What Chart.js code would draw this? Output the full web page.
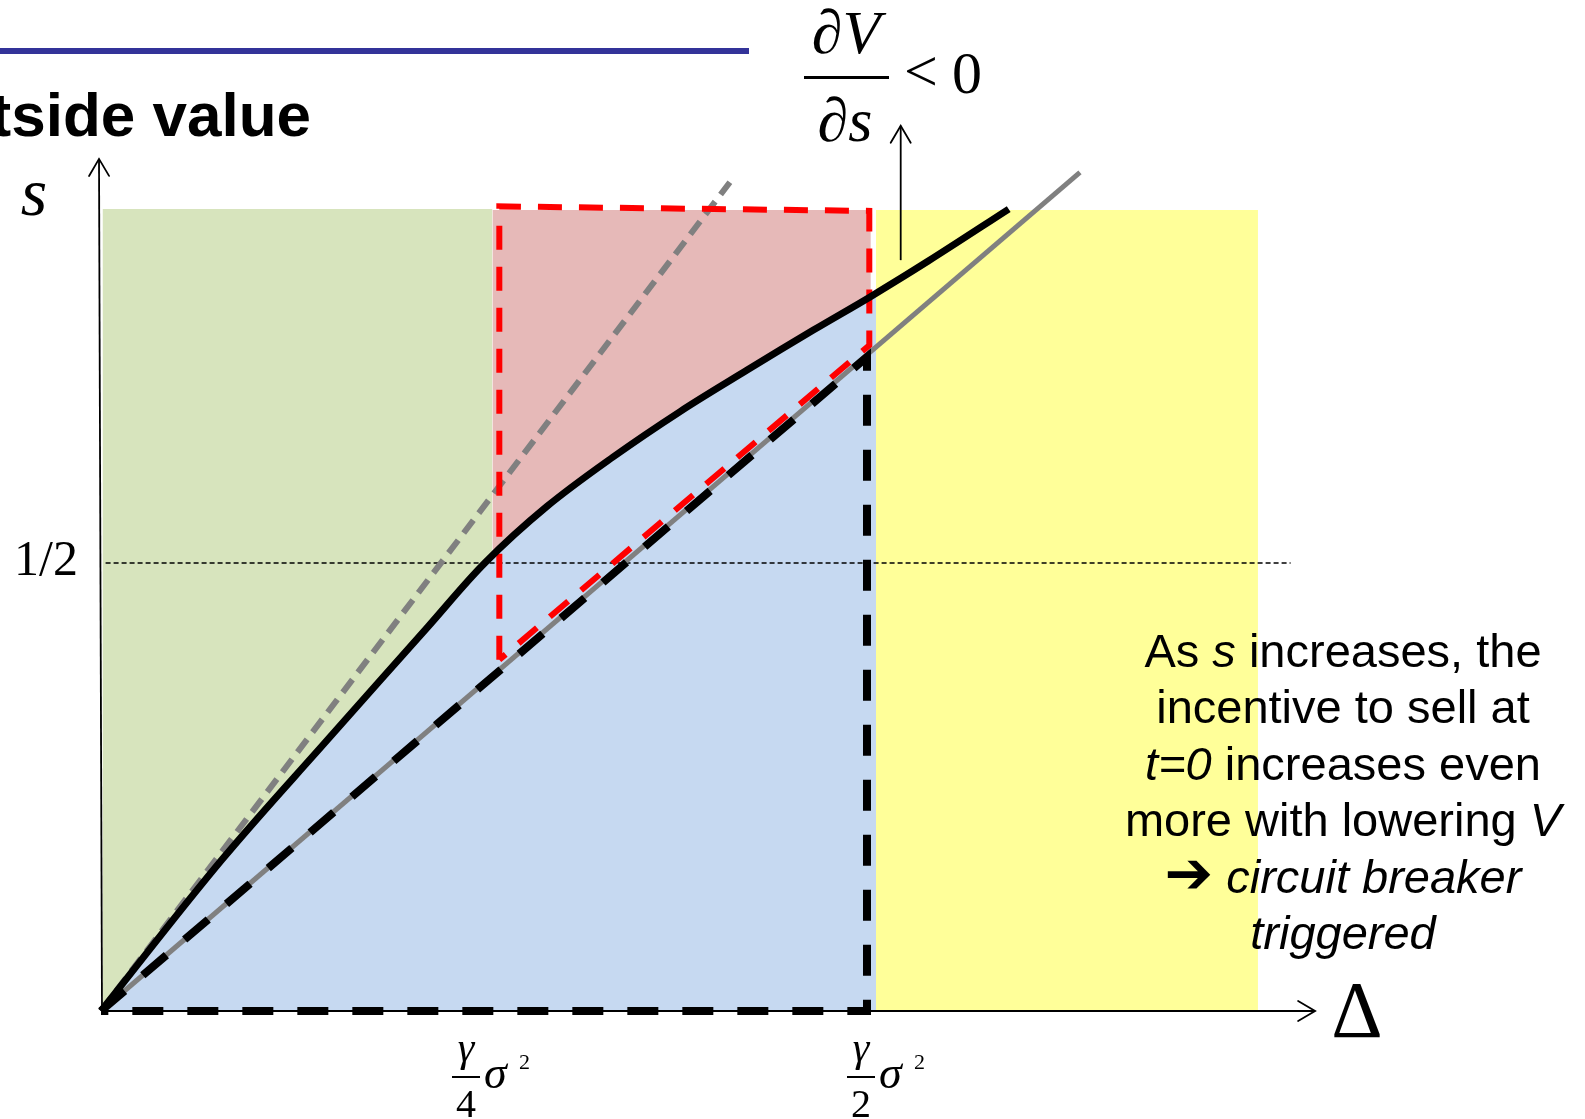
<!DOCTYPE html>
<html>
<head>
<meta charset="utf-8">
<script src="https://cdn.jsdelivr.net/npm/chart.js@4.4.1/dist/chart.umd.min.js"></script>
<style>
  html, body { margin: 0; padding: 0; background: #ffffff; overflow: hidden; }
  #wrap { width: 1585px; height: 1119px; position: relative; }
</style>
</head>
<body>
<div id="wrap"><canvas id="chart"></canvas></div>
<script>
// Threshold curve s*(Δ): above it the investor runs
const curveDelta = [0, 0.158, 0.296, 0.427, 0.501, 0.582, 0.668, 0.756, 0.843, 0.930, 1.004, 1.080, 1.185];
const curveS     = [0, 0.169, 0.303, 0.429, 0.500, 0.563, 0.618, 0.669, 0.715, 0.760, 0.797, 0.837, 0.895];

// Reference rays from the origin
const steepRayDelta = [0, 0.821];
const steepRayS     = [0, 0.925];
const flatRayDelta  = [0, 1.278];
const flatRayS      = [0, 0.936];

// Black dashed triangle and red dashed box
const triangleDelta = [0, 1.0, 1.0, 0];
const triangleS     = [0, 0.730, 0, 0];
const boxDelta      = [0.520, 0.520, 1.003, 1.003, 0.520];
const boxS          = [0.392, 0.898, 0.893, 0.743, 0.392];

// Shaded regions: [left Δ, right Δ, top s]
const greenRegion  = [0.002, 0.511, 0.895];
const pinkRegion   = [0.511, 1.005, 0.894];
const yellowRegion = [1.0117, 1.5104, 0.894];

// Axes, the s = 1/2 guide and the ∂V/∂s marker
const xAxisDelta = [0, 1.585];
const yAxisDelta = [0.0013, -0.0026];
const yAxisS     = [0, 0.951];
const halfLineDelta = [0.006, 1.553];
const halfLineS = 0.5;
const markerDelta = 1.044;
const markerS = [0.838, 0.988];

// Tick labels
const xTickValues = [0.5, 1.0];
const xTickDenoms = ['4', '2'];
const yTickValues = [0.5];
const yTickLabels = ['1/2'];

const pts = (xs, ys) => xs.map((x, i) => ({ x: x, y: Array.isArray(ys) ? ys[i] : ys }));
const rect = r => [{ x: r[0], y: r[2] }, { x: r[1], y: r[2] }];

const SERIF = '"Liberation Serif", "Times New Roman", serif';
const SANS = '"Liberation Sans", Arial, sans-serif';

function base(extra) {
  return Object.assign({
    pointRadius: 0, pointHoverRadius: 0, borderWidth: 0, fill: false,
    tension: 0, borderCapStyle: 'butt', borderJoinStyle: 'miter'
  }, extra);
}

function arrowHead(ctx, tx, ty, fx, fy, len, half) {
  const dx = tx - fx, dy = ty - fy, l = Math.hypot(dx, dy);
  const ux = dx / l, uy = dy / l;
  ctx.beginPath();
  ctx.moveTo(tx - ux * len - uy * half, ty - uy * len + ux * half);
  ctx.lineTo(tx, ty);
  ctx.lineTo(tx - ux * len + uy * half, ty - uy * len - ux * half);
  ctx.stroke();
}

function drawRuns(ctx, runs, cx, y) {
  let total = 0;
  runs.forEach(r => { ctx.font = r.f; r.w = ctx.measureText(r.t).width; total += r.w; });
  let x = cx - total / 2;
  ctx.textAlign = 'left';
  runs.forEach(r => { ctx.font = r.f; ctx.fillText(r.t, x, y); x += r.w; });
}

const decorations = {
  id: 'decorations',
  afterDatasetsDraw(chart) {
    const ctx = chart.ctx;
    const xs = chart.scales.x, ys = chart.scales.y;
    const px = v => xs.getPixelForValue(v), py = v => ys.getPixelForValue(v);
    ctx.save();
    ctx.strokeStyle = '#000';
    ctx.lineWidth = 1.8;
    ctx.lineCap = 'round';
    // open arrowheads on the axes and the marker
    arrowHead(ctx, px(xAxisDelta[1]), py(0), px(xAxisDelta[0]), py(0), 17, 10);
    arrowHead(ctx, px(yAxisDelta[1]), py(yAxisS[1]), px(yAxisDelta[0]), py(yAxisS[0]), 17, 10);
    arrowHead(ctx, px(markerDelta), py(markerS[1]), px(markerDelta), py(markerS[0]), 17, 10);
    ctx.restore();
  },
  afterDraw(chart) {
    const ctx = chart.ctx;
    const xs = chart.scales.x, ys = chart.scales.y;
    const px = v => xs.getPixelForValue(v), py = v => ys.getPixelForValue(v);
    ctx.save();
    ctx.fillStyle = '#000';
    ctx.textBaseline = 'alphabetic';

    // header rule and heading
    ctx.fillStyle = '#333399';
    ctx.fillRect(0, 48, 749, 6);
    ctx.fillStyle = '#000';
    ctx.font = 'bold 62px ' + SANS;
    ctx.textAlign = 'right';
    ctx.fillText('Outside value', 311, 136);

    // axis names
    ctx.textAlign = 'center';
    ctx.font = 'italic 68px ' + SERIF;
    ctx.fillText('s', 34, 215);
    ctx.font = '80px ' + SERIF;
    ctx.fillText('\u0394', 1357, 1037);

    // y tick
    ctx.font = '50px ' + SERIF;
    yTickValues.forEach((v, i) => ctx.fillText(yTickLabels[i], 46, py(v) + 12));

    // x ticks: γ/k σ²
    const nudge = [-18, -6];
    xTickValues.forEach((v, i) => {
      const fc = px(v) + nudge[i];
      ctx.textAlign = 'center';
      ctx.font = 'italic 42px ' + SERIF;
      ctx.fillText('\u03B3', fc, 1061);
      ctx.fillRect(fc - 14, 1076, 28, 2);
      ctx.font = '40px ' + SERIF;
      ctx.fillText(xTickDenoms[i], fc, 1117);
      ctx.textAlign = 'left';
      ctx.font = 'italic 46px ' + SERIF;
      ctx.fillText('\u03C3', fc + 18, 1088);
      ctx.font = '22px ' + SERIF;
      ctx.fillText('2', fc + 53, 1069);
    });

    // ∂V/∂s < 0
    ctx.textAlign = 'center';
    drawRuns(ctx, [{ t: '\u2202', f: 'italic 62px ' + SERIF }, { t: 'V', f: 'italic 62px ' + SERIF }], 846, 53);
    ctx.fillRect(804, 76, 85, 3);
    drawRuns(ctx, [{ t: '\u2202', f: 'italic 62px ' + SERIF }, { t: 's', f: 'italic 62px ' + SERIF }], 845, 141);
    ctx.textAlign = 'left';
    ctx.font = '60px ' + SERIF;
    ctx.fillText('<', 904, 91);
    ctx.fillText('0', 952, 93);

    // explanatory note
    const N = '47px ' + SANS, I = 'italic 47px ' + SANS;
    const lines = [
      [{ t: 'As ', f: N }, { t: 's', f: I }, { t: ' increases, the', f: N }],
      [{ t: 'incentive to sell at', f: N }],
      [{ t: 't=0', f: I }, { t: ' increases even', f: N }],
      [{ t: 'more with lowering ', f: N }, { t: 'V', f: I }],
      [{ t: '\u2794', f: 'bold 58px "DejaVu Sans", sans-serif' }, { t: ' ', f: N }, { t: 'circuit breaker', f: I }],
      [{ t: 'triggered', f: I }]
    ];
    lines.forEach((runs, i) => drawRuns(ctx, runs, 1343, 667 + 56.4 * i));
    ctx.restore();
  }
};

const datasets = [
  // top layer first
  base({ data: pts(curveDelta, curveS), borderColor: '#000000', borderWidth: 7, tension: 0.35, order: 1 }),
  base({ data: pts(boxDelta, boxS), borderColor: '#ff0000', borderWidth: 6, borderDash: [24, 17], order: 2 }),
  base({ data: pts(triangleDelta, triangleS), borderColor: '#000000', borderWidth: 8, borderDash: [31, 24], order: 3 }),
  base({ data: pts(steepRayDelta, steepRayS), borderColor: '#808080', borderWidth: 6, borderDash: [16, 9], order: 4 }),
  base({ data: pts(flatRayDelta, flatRayS), borderColor: '#808080', borderWidth: 5, order: 5 }),
  base({ data: pts([markerDelta, markerDelta], markerS), borderColor: '#000000', borderWidth: 1.8, order: 6 }),
  base({ data: pts(xAxisDelta, [0, 0]), borderColor: '#000000', borderWidth: 1.8, order: 7 }),
  base({ data: pts(yAxisDelta, yAxisS), borderColor: '#000000', borderWidth: 1.8, order: 8 }),
  base({ data: pts(halfLineDelta, halfLineS), borderColor: '#000000', borderWidth: 1.5, borderDash: [5, 3], order: 9 }),
  base({ data: rect(yellowRegion), backgroundColor: '#ffff99', fill: 'origin', order: 10 }),
  base({ data: pts(curveDelta, curveS), backgroundColor: '#c6d9f1', fill: 'origin', tension: 0.35, order: 11 }),
  base({ data: rect(pinkRegion), backgroundColor: '#e6b9b8', fill: 'origin', order: 12 }),
  base({ data: rect(greenRegion), backgroundColor: '#d7e4bd', fill: 'origin', order: 13 })
];

new Chart(document.getElementById('chart'), {
  type: 'line',
  data: { datasets: datasets },
  options: {
    responsive: true,
    maintainAspectRatio: false,
    animation: false,
    devicePixelRatio: 1,
    layout: { padding: 0 },
    plugins: { legend: { display: false }, tooltip: { enabled: false }, title: { display: false } },
    events: [],
    scales: {
      x: { type: 'linear', display: false, min: -0.13185, max: 1.93734 },
      y: { type: 'linear', display: false, min: -0.12054, max: 1.12835 }
    }
  },
  plugins: [decorations]
});
</script>
</body>
</html>
